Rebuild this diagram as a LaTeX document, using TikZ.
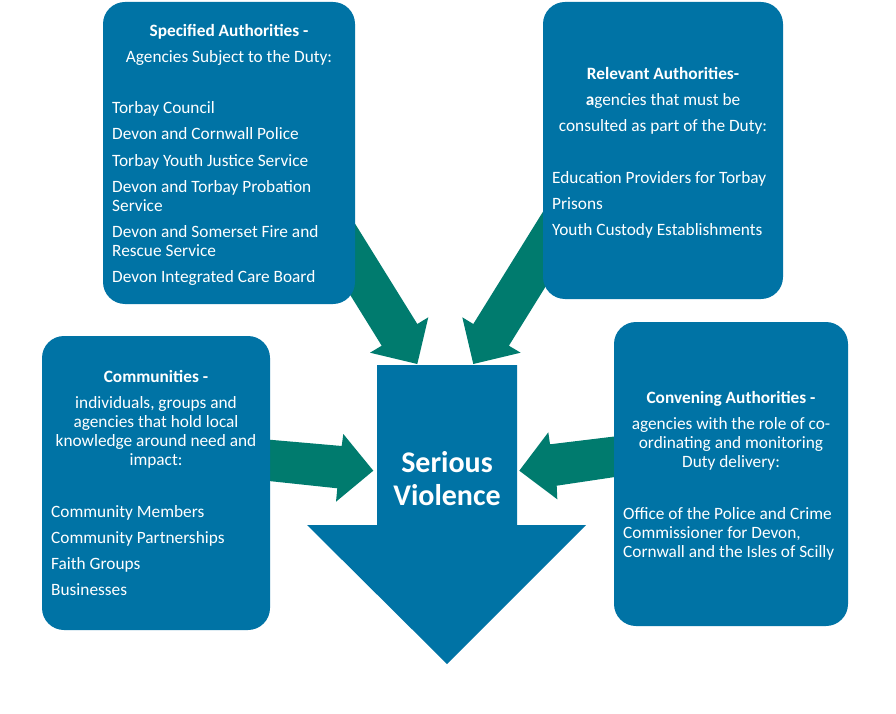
\documentclass[tikz,border=0pt]{standalone}
\usepackage{fontspec}
\setmainfont{Carlito}
\definecolor{boxblue}{HTML}{0073A5}
\definecolor{arrowteal}{HTML}{007B6E}
\begin{document}
\begin{tikzpicture}[x=1pt,y=-1pt,
  panel/.style={fill=boxblue,draw=none,rounded corners=22pt},
  teal/.style={fill=arrowteal,draw=none},
  bigarrow/.style={fill=boxblue,draw=none},
  txt/.style={text=white,inner sep=0pt,font=\fontsize{17.3}{19}\selectfont},
  item/.style={txt,anchor=base west},
  ctr/.style={txt,anchor=base},
  head/.style={txt,anchor=base,font=\fontsize{17.3}{19}\selectfont\bfseries},
  big/.style={txt,anchor=base,font=\fontsize{30}{33}\selectfont\bfseries}]
\useasboundingbox (0,0) rectangle (896,714);
% teal arrows
\fill[teal] (336,193) -- (417.3,324) -- (428.3,317.3) -- (417.3,364) -- (370,352.7) -- (381.7,345.7) -- (300.4,214.7) -- cycle;
\fill[teal] (554.6,193) -- (473.3,324) -- (462.3,317.3) -- (473.3,364) -- (520.6,352.7) -- (508.9,345.7) -- (590.2,214.7) -- cycle;
\fill[teal] (250,438) -- (341.7,446) -- (343.3,434) -- (373.3,470.7) -- (336,501.7) -- (337.3,488.3) -- (250,479) -- cycle;
\fill[teal] (635,434) -- (550,444.3) -- (548.3,432.3) -- (519.3,470.7) -- (557.3,499.3) -- (556.7,485.7) -- (635,474) -- cycle;
% panels
\path[panel] (103,2) rectangle (355,304);
\path[panel] (543,2) rectangle (783,299);
\path[panel] (42,336) rectangle (270,630);
\path[panel] (614,322) rectangle (848,626);
% central arrow
\fill[bigarrow] (377,365) -- (517,365) -- (517,525) -- (586,525) -- (447,664) -- (307,525) -- (377,525) -- cycle;
\node[big] (sv1) at (447,472) {Serious};
\node[big] (sv2) at (447,505) {Violence};
% Specified
\node[head] (s0) at (229,36.5) {Specified Authorities -};
\node[ctr] (s1) at (229,62.5) {Agencies Subject to the Duty:};
\node[item] (s2) at (112,113.5) {Torbay Council};
\node[item] (s3) at (112,139.5) {Devon and Cornwall Police};
\node[item] (s4) at (112,166.5) {Torbay Youth Justice Service};
\node[item] (s5) at (112,192.5) {Devon and Torbay Probation};
\node[item] (s6) at (112,211.5) {Service};
\node[item] (s7) at (112,237.5) {Devon and Somerset Fire and};
\node[item] (s8) at (112,256.5) {Rescue Service};
\node[item] (s9) at (112,282.5) {Devon Integrated Care Board};
% Relevant
\node[head] (r0) at (663,79.5) {Relevant Authorities-};
\node[ctr] (r1) at (663,105.5) {{\bfseries a}gencies that must be};
\node[ctr] (r2) at (663,131.5) {consulted as part of the Duty:};
\node[item] (r3) at (552,183.5) {Education Providers for Torbay};
\node[item] (r4) at (552,209.5) {Prisons};
\node[item] (r5) at (552,235.5) {Youth Custody Establishments};
% Communities
\node[head] (c0) at (156,382.5) {Communities -};
\node[ctr] (c1) at (156,408.5) {individuals, groups and};
\node[ctr] (c2) at (156,427.5) {agencies that hold local};
\node[ctr] (c3) at (156,446.5) {knowledge around need and};
\node[ctr] (c4) at (156,465.5) {impact:};
\node[item] (c5) at (51,517.5) {Community Members};
\node[item] (c6) at (51,543.5) {Community Partnerships};
\node[item] (c7) at (51,569.5) {Faith Groups};
\node[item] (c8) at (51,595.5) {Businesses};
% Convening
\node[head] (v0) at (731,403.5) {Convening Authorities -};
\node[ctr] (v1) at (731,429.5) {agencies with the role of co-};
\node[ctr] (v2) at (731,448.5) {ordinating and monitoring};
\node[ctr] (v3) at (731,467.5) {Duty delivery:};
\node[item] (v4) at (623,519.5) {Office of the Police and Crime};
\node[item] (v5) at (623,538.5) {Commissioner for Devon,};
\node[item] (v6) at (623,557.5) {Cornwall and the Isles of Scilly};
\end{tikzpicture}
\end{document}
